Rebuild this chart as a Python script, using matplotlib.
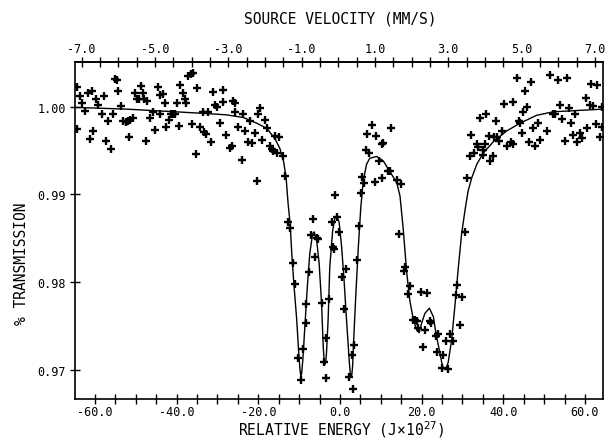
import matplotlib
matplotlib.use("Agg")
import matplotlib.pyplot as plt
from matplotlib.ticker import FixedLocator, FormatStrFormatter

# ---------------- data ----------------
# measured points: relative energy (J x 10^27) and transmission
pts_energy = [
    -64.5, -63.7, -63.3, -61.6, -60.8, -62.5, -64.3, -60.4, -61.2, -59.8,
    -59.2, -57.8, -58.4, -57.2, -56.2, -55.7, -56.7, -55.1, -54.7, -54.3,
    -53.7, -53.1, -52.5, -51.8, -51.4, -50.8, -51.6, -50.2, -49.6, -49.2,
    -48.8, -48.3, -48.0, -47.2, -47.5, -46.5, -45.9, -45.4, -44.5, -44.1,
    -43.4, -42.9, -44.1, -42.5, -41.8, -41.5, -41.0, -40.4, -40.0, -39.2,
    -39.4, -38.5, -38.0, -37.6, -37.2, -36.6, -35.9, -36.3, -35.1, -35.3,
    -34.3, -33.6, -33.3, -32.7, -32.3, -31.7, -31.0, -30.6, -30.2, -28.7,
    -28.6, -29.4, -27.8, -26.9, -26.5, -26.3, -25.7, -25.7, -24.9, -24.1,
    -23.7, -23.3, -22.5, -22.1, -21.6, -20.8, -20.2, -19.6, -19.2, -18.4,
    -17.8, -17.1, -16.7, -16.3, -15.9, -15.5, -20.4,
    -13.9, -14.9, -13.5, -12.7, -12.3, -11.6, -11.0, -10.4, -9.0, -9.5,
    -8.3, -8.2, -7.6, -7.1, -6.5, -6.1, -5.7, -5.3, -4.5, -3.9,
    -3.4, -3.3, -2.6, -1.8, -1.4, -1.9, -1.2, -0.7, -0.2, 0.6,
    1.1, 1.5, 2.3, 2.9, 3.1, 3.4, 4.1, 4.7, 5.1, 5.5,
    6.0, 6.4, 7.0, 6.7, 7.9, 8.8, 10.2, 10.6, 9.5, 8.6,
    10.4, 11.7, 12.2, 12.4, 13.9, 14.4,
    14.9, 15.9, 15.7, 16.7, 17.1, 17.8, 18.4, 18.8, 19.2, 19.8,
    20.4, 20.8, 21.4, 22.0, 22.4, 23.5, 23.9, 23.8, 24.9, 25.3,
    26.0, 26.4, 27.0, 27.8, 28.6, 28.4, 29.8, 29.4, 30.6, 31.2,
    31.8, 32.2, 32.8, 33.5, 33.7, 35.1, 35.0, 35.5, 36.7, 37.6,
    36.6, 37.7, 38.4, 39.0, 39.8, 40.8, 42.0, 42.5, 44.1, 44.5,
    46.4, 47.4, 47.8, 48.6, 49.0, 50.6,
    43.3, 46.9, 45.3, 51.4, 53.5, 55.5, 61.4, 63.0, 60.2, 61.2,
    61.9, 64.3, 40.2, 42.3, 44.9, 45.9, 43.9, 34.3, 35.8, 38.2,
    54.0, 56.2, 52.7, 52.2, 54.3, 56.5, 57.5, 58.8, 59.4, 58.0,
    60.4, 62.7, 64.3, 63.7, 55.1, 57.0,
]
pts_trans = [
    1.0022, 1.0012, 1.0004, 1.0015, 1.0018, 0.9995, 0.9974, 0.9972, 0.9963, 1.0009,
    1.0002, 1.0012, 0.9992, 0.9961, 0.9952, 0.9992, 0.9984, 1.0031, 1.0030, 1.0018,
    1.0001, 0.9984, 0.9982, 0.9983, 0.9985, 0.9987, 0.9965, 1.0015, 1.0008, 1.0009,
    1.0023, 1.0015, 1.0009, 1.0006, 0.9961, 0.9987, 0.9994, 0.9973, 1.0022, 1.0013,
    1.0014, 1.0004, 0.9992, 0.9977, 0.9985, 0.9991, 0.9991, 0.9992, 1.0004, 1.0025,
    0.9978, 1.0015, 1.0008, 1.0004, 1.0035, 1.0037, 1.0038, 0.9980, 1.0021, 0.9946,
    0.9977, 0.9994, 0.9971, 0.9969, 0.9994, 0.9960, 1.0017, 1.0002, 1.0000, 1.0019,
    1.0005, 0.9981, 0.9968, 0.9953, 0.9955, 1.0006, 1.0004, 0.9994, 0.9977, 0.9939,
    0.9991, 0.9972, 0.9960, 0.9983, 0.9958, 0.9970, 0.9991, 0.9998, 0.9962, 0.9985,
    0.9975, 0.9955, 0.9951, 0.9949, 0.9966, 0.9947, 0.9915,
    0.9943, 0.9965, 0.9921, 0.9868, 0.9862, 0.9822, 0.9798, 0.9713, 0.9723, 0.9688,
    0.9753, 0.9775, 0.9811, 0.9853, 0.9872, 0.9828, 0.9850, 0.9849, 0.9776, 0.9709,
    0.9690, 0.9736, 0.9780, 0.9840, 0.9838, 0.9868, 0.9899, 0.9874, 0.9857, 0.9806,
    0.9769, 0.9815, 0.9692, 0.9717, 0.9678, 0.9728, 0.9825, 0.9864, 0.9901, 0.9920,
    0.9913, 0.9950, 0.9947, 0.9969, 0.9979, 0.9966, 0.9957, 0.9958, 0.9938, 0.9914,
    0.9919, 0.9927, 0.9926, 0.9975, 0.9916, 0.9855,
    0.9912, 0.9817, 0.9812, 0.9786, 0.9795, 0.9757, 0.9757, 0.9755, 0.9747, 0.9789,
    0.9726, 0.9745, 0.9787, 0.9755, 0.9753, 0.9738, 0.9741, 0.9720, 0.9702, 0.9717,
    0.9732, 0.9701, 0.9741, 0.9733, 0.9796, 0.9785, 0.9783, 0.9751, 0.9857, 0.9919,
    0.9943, 0.9968, 0.9947, 0.9957, 0.9954, 0.9950, 0.9945, 0.9957, 0.9938, 0.9943,
    0.9966, 0.9965, 0.9965, 0.9961, 0.9972, 0.9955, 0.9960, 0.9957, 0.9981, 0.9970,
    0.9960, 0.9975, 0.9955, 0.9981, 0.9962, 0.9972,
    1.0032, 1.0028, 1.0018, 1.0036, 1.0030, 1.0032, 1.0026, 1.0025, 1.0010, 1.0002,
    1.0001, 1.0000, 1.0003, 1.0005, 0.9994, 0.9999, 0.9983, 0.9987, 0.9992, 0.9984,
    1.0002, 0.9998, 0.9992, 0.9991, 0.9986, 0.9981, 0.9992, 0.9970, 0.9964, 0.9960,
    0.9976, 0.9980, 0.9977, 0.9965, 0.9961, 0.9968,
]

# fitted curve
fit_energy = [
    -64.9, -52.3, -41.6, -34.3, -27.8, -23.7, -20.4, -17.9, -15.9, -14.7,
    -13.8, -13.2, -12.7, -12.2, -11.8, -11.3, -10.6, -10.1, -9.8, -9.6,
    -9.4, -9.1, -8.6, -8.0, -7.4, -6.7, -6.3, -5.7, -5.1, -4.5,
    -4.1, -3.9, -3.7, -3.5, -3.3, -2.9, -2.5, -1.8, -1.2, -0.8,
    -0.2, 0.4, 1.0, 1.6, 2.3, 2.5, 2.7, 2.9, 3.1, 3.4,
    3.9, 4.5, 5.1, 5.7, 6.5, 7.3, 9.0, 10.6, 12.2, 13.9,
    14.7, 15.5, 16.3, 17.1, 17.96, 18.8, 19.4, 20.0, 20.8, 21.9,
    22.9, 23.5, 24.3, 25.1, 25.5, 25.9, 26.5, 27.35, 28.2, 29.0,
    29.8, 30.6, 31.4, 32.3, 33.5, 35.1, 37.6, 40.8, 44.1, 48.2,
    52.3, 56.3, 60.4, 64.3,
]
fit_trans = [
    0.99990, 0.99970, 0.99943, 0.99924, 0.99905, 0.99875, 0.9981, 0.9975, 0.9963, 0.9952,
    0.9937, 0.9919, 0.9889, 0.9866, 0.9832, 0.9798, 0.9757, 0.9719, 0.9700, 0.9693,
    0.9695, 0.9711, 0.9749, 0.9794, 0.9832, 0.9855, 0.9857, 0.9847, 0.9821, 0.9775,
    0.9726, 0.9712, 0.9706, 0.9708, 0.9719, 0.9757, 0.9817, 0.9858, 0.9874, 0.9875,
    0.9868, 0.9840, 0.9802, 0.9757, 0.9708, 0.9697, 0.9692, 0.9694, 0.9704, 0.9738,
    0.9787, 0.9840, 0.9885, 0.9915, 0.9934, 0.9941, 0.9943, 0.9938, 0.9926, 0.9913,
    0.9898, 0.9860, 0.9813, 0.9779, 0.9757, 0.9745, 0.9742, 0.9753, 0.9764, 0.9770,
    0.9760, 0.9741, 0.9723, 0.9704, 0.9701, 0.9700, 0.9708, 0.9734, 0.9775, 0.9817,
    0.9855, 0.9881, 0.9904, 0.9919, 0.9934, 0.9947, 0.9960, 0.9972, 0.9981, 0.9990,
    0.9994, 0.9995, 0.9996, 0.9997,
]

energy_ticks = [-60.0, -40.0, -20.0, 0.0, 20.0, 40.0, 60.0]
velocity_ticks = [-7.0, -5.0, -3.0, -1.0, 1.0, 3.0, 5.0, 7.0]
trans_ticks = [0.97, 0.98, 0.99, 1.00]
energy_per_velocity = 8.98   # energy units per mm/s
energy_offset = -0.42

# ---------------- figure ----------------
FONT = "DejaVu Sans Mono"
plt.rcParams["font.family"] = [FONT, "DejaVu Sans"]

W, H = 606, 439
fig = plt.figure(figsize=(W / 100, H / 100), dpi=100)
ax = fig.add_axes([75 / W, 1 - 400 / H, (602.7 - 75) / W, (400 - 62.7) / H])

ax.plot(fit_energy, fit_trans, color="black", lw=1.0, zorder=2)
ax.plot(pts_energy, pts_trans, linestyle="none", marker="+", ms=5.5, mew=1.7,
        color="black", zorder=3)

ax.set_xlim(-64.9, 64.35)
ax.set_ylim(0.96664, 1.00511)

for s in ax.spines.values():
    s.set_linewidth(1.2)

# bottom axis
ax.xaxis.set_major_locator(FixedLocator(energy_ticks))
minor_e = [-60 + 5 * i for i in range(25)]
ax.xaxis.set_minor_locator(FixedLocator(minor_e))
ax.xaxis.set_major_formatter(FormatStrFormatter("%.1f"))
ax.tick_params(axis="x", which="both", direction="inout", length=7, width=1.0,
               top=False, labelsize=8.5, pad=1)

# left axis
ax.yaxis.set_major_locator(FixedLocator(trans_ticks))
ax.yaxis.set_major_formatter(FormatStrFormatter("%.2f"))
ax.tick_params(axis="y", which="both", direction="inout", length=7, width=1.0,
               right=False, labelsize=8.5, pad=3)

# top axis: source velocity
def e2v(e):
    return (e - energy_offset) / energy_per_velocity

def v2e(v):
    return v * energy_per_velocity + energy_offset

sec = ax.secondary_xaxis("top", functions=(e2v, v2e))
sec.xaxis.set_major_locator(FixedLocator(velocity_ticks))
sec.xaxis.set_minor_locator(FixedLocator([-7 + 0.5 * i for i in range(29)]))
sec.xaxis.set_major_formatter(FormatStrFormatter("%.1f"))
sec.tick_params(axis="x", which="both", direction="inout", length=7, width=1.0,
                labelsize=8.5, pad=1)
sec.spines["top"].set_linewidth(1.2)

fig.text(340 / W, 1 - 19 / H, "SOURCE VELOCITY (MM/S)", ha="center", va="center",
         fontsize=10.5)
fig.text(341 / W, 1 - 430 / H, "RELATIVE ENERGY (J×10$^{27}$)", ha="center",
         va="center", fontsize=10.5)
fig.text(21 / W, 1 - 264 / H, "% TRANSMISSION", ha="center", va="center",
         rotation=90, fontsize=10.5)

fig.savefig("out.png", dpi=100)
